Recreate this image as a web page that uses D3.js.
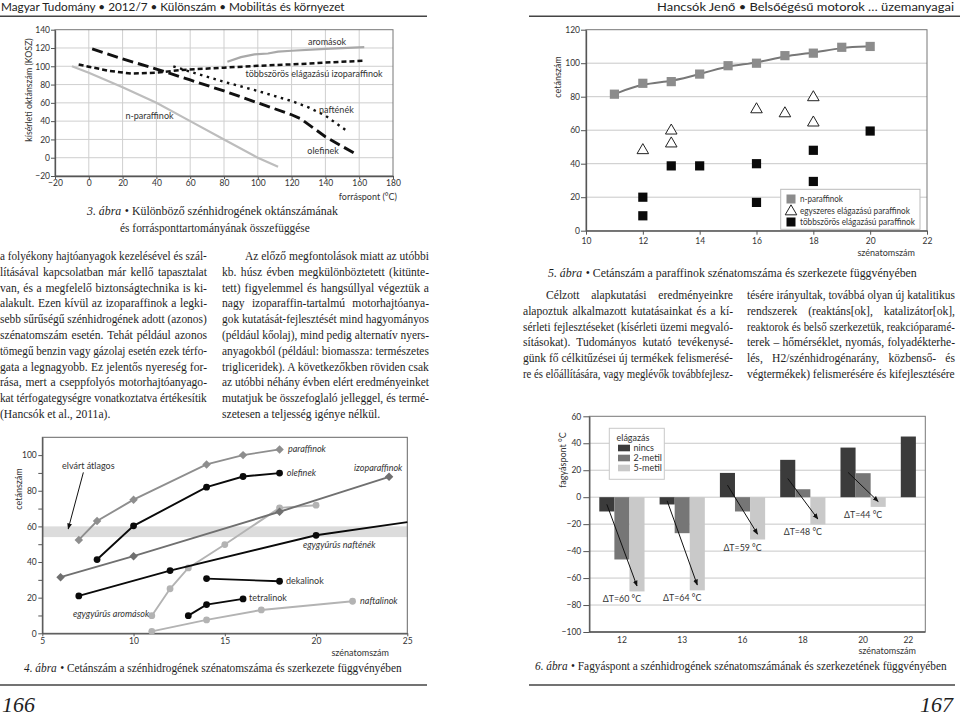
<!DOCTYPE html>
<html lang="hu"><head><meta charset="utf-8">
<script src="https://d3js.org/d3.v7.min.js"></script>
<style>html,body{margin:0;padding:0;background:#fff}svg{display:block}</style>
</head><body>
<svg id="page" width="960" height="720" xmlns="http://www.w3.org/2000/svg"></svg>
<script>
// ================= DATA =================
// 3. ábra – oktánszám vs forráspont
const fig3XTicks = [-20,0,20,40,60,80,100,120,140,160,180];
const fig3YTicks = [-20,0,20,40,60,80,100,120,140];
const fig3NParaffinok = [[-10,100],[0,93],[20,77],[40,60],[60,40],[80,20],[100,0],[112,-10]];
const fig3Aromasok = [[82,105],[90,110],[98,113],[106,114],[112,116],[120,117],[140,119],[163,121]];
const fig3Izoparaffinok = [[-6,102],[0,99.5],[12,95],[25,92],[40,93],[55,96],[80,98.5],[100,100.5],[125,102.5],[145,104.5],[163,106]];
const fig3Naftenek = [[50,100],[60,94],[80,83],[100,73],[120,62],[130,55],[140,46],[153,29]];
const fig3Olefinek = [[2,119],[20,108],[40,97],[60,85],[80,73],[100,60],[120,47],[125,43],[140,23],[157,5]];

// 5. ábra – cetánszám vs szénatomszám (paraffinok)
const fig5XTicks = [10,12,14,16,18,20,22];
const fig5YTicks = [0,20,40,60,80,100,120];
const fig5NParX = [11,12,13,14,15,16,17,18,19,20];
const fig5NParY = [81.5,88,89,93.5,98.5,100,104.5,106,109.5,110];
const fig5EgyX = [12,13,13,16,17,18,18];
const fig5EgyY = [48,59.7,52,72.4,70,79.6,64.5];
const fig5TobbX = [12,12,13,14,16,16,18,18,20];
const fig5TobbY = [20,8.9,38.7,38.7,40,16.9,48,29.4,59.5];
const fig5Legend = ['n-paraffinok','egyszeres elágazású paraffinok','többszörös elágazású paraffinok'];

// 4. ábra – cetánszám vs szénatomszám (szénhidrogének)
const fig4XTicks = [5,10,15,20,25];
const fig4YTicks = [0,10,20,30,40,50,60,70,80,90,100];
const fig4YLabels = [0,20,40,60,80,100];
const fig4Band = [54,60];
const fig4Paraffinok = [[7,52.4],[8,63],[10,75],[14,94.8],[16,100],[18,103.2]];
const fig4Olefinek = [[8,41.4],[10,60.3],[14,82],[16,88],[18,89.9]];
const fig4Izoparaffinok = [[6,31.5],[10,43.3],[18,68.2],[24,87.8]];
const fig4Naftenek = [[7,21],[12,35.2],[20,55]];
const fig4NaftenekEnd = [25,62.4];
const fig4Aromasok = [[11,9.9],[12,25],[13,36.7],[15,49.8],[18,70.4],[20,71.9]];
const fig4Dekalinok = [[14,30.7],[18,29.2]];
const fig4Tetralinok = [[13,9.9],[14,16.1],[16,19.3]];
const fig4Naftalinok = [[11,1.1],[14,7.5],[17,13.1],[22,18]];

// 6. ábra – fagyáspont
const fig6Cats = ['12','13','16','18','20','22'];
const fig6Series = ['nincs','2-metil','5-metil'];
const fig6Nincs = [-10.6,-5.4,18,27.7,36.8,45];
const fig6Metil2 = [-46.2,-26.7,-10.6,5.9,17.8,null];
const fig6Metil5 = [-69.9,-69.1,-31.4,-20.2,-7.2,null];
const fig6Delta = ['ΔT=60 °C','ΔT=64 °C','ΔT=59 °C','ΔT=48 °C','ΔT=44 °C',null];
const fig6YTicks = [-100,-80,-60,-40,-20,0,20,40,60];

// body text
const textL1 = ['a folyékony hajtóanyagok kezelésével és szál-','lításával kapcsolatban már kellő tapasztalat','van, és a megfelelő biztonságtechnika is ki-','alakult. Ezen kívül az izoparaffinok a legki-','sebb sűrűségű szénhidrogének adott (azonos)','szénatomszám esetén. Tehát például azonos','tömegű benzin vagy gázolaj esetén ezek térfo-','gata a legnagyobb. Ez jelentős nyereség for-','rása, mert a cseppfolyós motorhajtóanyago-','kat térfogategységre vonatkoztatva értékesítik','(Hancsók et al., 2011a).'];
const textL2 = ['Az előző megfontolások miatt az utóbbi','kb. húsz évben megkülönböztetett (kitünte-','tett) figyelemmel és hangsúllyal végeztük a','nagy izoparaffin-tartalmú motorhajtóanya-','gok kutatását-fejlesztését mind hagyományos','(például kőolaj), mind pedig alternatív nyers-','anyagokból (például: biomassza: természetes','trigliceridek). A következőkben röviden csak','az utóbbi néhány évben elért eredményeinket','mutatjuk be összefoglaló jelleggel, és termé-','szetesen a teljesség igénye nélkül.'];
const textR1 = ['Célzott alapkutatási eredményeinkre','alapoztuk alkalmazott kutatásainkat és a kí-','sérleti fejlesztéseket (kísérleti üzemi megvaló-','sításokat). Tudományos kutató tevékenysé-','günk fő célkitűzései új termékek felismerésé-','re és előállítására, vagy meglévők továbbfejlesz-'];
const textR2 = ['tésére irányultak, továbbá olyan új katalitikus','rendszerek (reaktáns[ok], katalizátor[ok],','reaktorok és belső szerkezetük, reakcióparamé-','terek – hőmérséklet, nyomás, folyadékterhe-','lés, H2/szénhidrogénarány, közbenső- és','végtermékek) felismerésére és kifejlesztésére'];

// ================= DRAWING =================
const svg = d3.select('#page');
const SANS = "Lato, 'Open Sans', 'DejaVu Sans', sans-serif";
const SERIF = "'Liberation Serif', 'DejaVu Serif', serif";

// horizontally scale a text (anchored at x,y) so it takes width w
function squeeze(t, x, y, w, n) {
  n = n || t.node().getComputedTextLength();
  const r = w / n;
  t.attr('x', 0).attr('y', 0).attr('transform', `translate(${x},${y}) scale(${r.toFixed(4)},1)`);
  return r;
}
function fitSize(t, w) {
  const n = t.node().getComputedTextLength();
  const fs = parseFloat(t.attr('font-size'));
  if (n > 0) t.attr('font-size', (fs * w / n).toFixed(2));
}
function T(g, s, x, y, o = {}) {
  const t = g.append('text').attr('x', x).attr('y', y).text(s)
    .attr('font-family', o.family || SANS).attr('font-size', o.size || 9)
    .attr('fill', o.fill || '#333').attr('text-anchor', o.anchor || 'start');
  if (o.italic) t.attr('font-style', 'italic');
  if (o.rotate) t.attr('transform', `rotate(${o.rotate},${x},${y})`);
  if (o.width) fitSize(t, o.width);
  if (o.len) squeeze(t, x, y, o.len);
  return t;
}
// caption: italic figure number + upright text, squeezed together to the wanted width
function caption(g, num, rest, x, y, w) {
  const fs = 12.8;
  const mk = (s, it) => {
    const t = g.append('text').attr('font-family', SERIF).attr('font-size', fs)
      .attr('fill', '#1e1e1e').text(s);
    if (it) t.attr('font-style', 'italic');
    return t;
  };
  const a = num ? mk(num, true) : null;
  const b = mk(rest, false);
  const gap = num ? fs * 0.3 : 0;
  const na = a ? a.node().getComputedTextLength() : 0;
  const nb = b.node().getComputedTextLength();
  const r = w / (na + gap + nb);
  if (a) squeeze(a, x, y, na * r, na);
  squeeze(b, x + (na + gap) * r, y, nb * r, nb);
}
function styleAxis(sel, fs = 8.5) {
  sel.attr('font-family', SANS).attr('font-size', fs);
  sel.select('.domain').attr('stroke', '#555').attr('stroke-width', 1.3);
  sel.selectAll('.tick line').attr('stroke', '#555');
  sel.selectAll('.tick text').attr('fill', '#333');
}
function column(g, lines, x0, x1, y0, lh, indentIdx, raggedIdx) {
  const size = 11.6;
  const items = lines.map((s, i) => {
    const xs = indentIdx.includes(i) ? x0 + 23 : x0;
    const y = y0 + i * lh;
    const t = g.append('text').attr('x', xs).attr('y', y).attr('font-family', SERIF)
      .attr('font-size', size).attr('fill', '#1e1e1e').text(s);
    return {t, s, xs, y, n: t.node().getComputedTextLength(), ragged: raggedIdx.includes(i)};
  });
  const ratios = items.filter(d => !d.ragged).map(d => (x1 - d.xs) / d.n);
  const r = Math.min(1, d3.mean(ratios));
  items.forEach(d => {
    const w = x1 - d.xs;
    if (d.ragged) {
      if (r < 1) squeeze(d.t, d.xs, d.y, d.n * r, d.n);
    } else if (d.n < w) {
      const sp = (d.s.match(/ /g) || []).length;
      if (sp) d.t.style('word-spacing', ((w - d.n) / sp) + 'px');
    } else {
      squeeze(d.t, d.xs, d.y, w, d.n);
    }
  });
}

const defs = svg.append('defs');
defs.append('marker').attr('id', 'arr').attr('viewBox', '0 0 10 10').attr('refX', 9).attr('refY', 5)
  .attr('markerWidth', 6).attr('markerHeight', 6).attr('orient', 'auto')
  .append('path').attr('d', 'M0,1L10,5L0,9z').attr('fill', '#111');

// ----- header & rules -----
T(svg, 'Magyar Tudomány • 2012/7 • Különszám • Mobilitás és környezet', 1, 11, {size: 11.8, fill: '#222', len: 344});
T(svg, 'Hancsók Jenő • Belsőégésű motorok … üzemanyagai', 954, 11, {size: 11.8, fill: '#222', anchor: 'end', len: 297});
svg.append('line').attr('x1', 0).attr('x2', 427).attr('y1', 16.3).attr('y2', 16.3).attr('stroke', '#444').attr('stroke-width', 1.5);
svg.append('line').attr('x1', 529).attr('x2', 960).attr('y1', 16.3).attr('y2', 16.3).attr('stroke', '#444').attr('stroke-width', 1.5);
svg.append('line').attr('x1', 0).attr('x2', 427).attr('y1', 685).attr('y2', 685).attr('stroke', '#444').attr('stroke-width', 1.5);
svg.append('line').attr('x1', 529).attr('x2', 955).attr('y1', 685).attr('y2', 685).attr('stroke', '#444').attr('stroke-width', 1.5);
T(svg, '166', 2, 712, {family: SERIF, size: 22, italic: true, fill: '#1e1e1e'});
T(svg, '167', 953, 712, {family: SERIF, size: 22, italic: true, fill: '#1e1e1e', anchor: 'end'});

// ----- 3. ábra -----
(function () {
  const g = svg.append('g');
  const x = d3.scaleLinear().domain([-20, 180]).range([55, 393]);
  const y = d3.scaleLinear().domain([-20, 140]).range([176, 29.7]);
  g.append('g').selectAll('line').data(fig3XTicks.slice(1, -1)).join('line')
    .attr('x1', d => x(d)).attr('x2', d => x(d)).attr('y1', y(-20)).attr('y2', y(140)).attr('stroke', '#cfcfcf');
  g.append('g').selectAll('line').data(fig3YTicks.slice(1, -1)).join('line')
    .attr('y1', d => y(d)).attr('y2', d => y(d)).attr('x1', x(-20)).attr('x2', x(180)).attr('stroke', '#cfcfcf');
  g.append('rect').attr('x', x(-20)).attr('y', y(140)).attr('width', x(180) - x(-20)).attr('height', y(-20) - y(140))
    .attr('fill', 'none').attr('stroke', '#777');
  styleAxis(g.append('g').attr('transform', `translate(${x(-20)},0)`)
    .call(d3.axisLeft(y).tickValues(fig3YTicks).tickSize(4).tickPadding(1).tickSizeOuter(0)));
  styleAxis(g.append('g').attr('transform', `translate(0,${y(-20)})`)
    .call(d3.axisBottom(x).tickValues(fig3XTicks).tickSize(3).tickPadding(1).tickSizeOuter(0)));
  const line = d3.line().x(d => x(d[0])).y(d => y(d[1]));
  const series = [
    {d: fig3NParaffinok, c: '#bdbdbd', w: 2.2, dash: null},
    {d: fig3Aromasok, c: '#a9a9a9', w: 2.2, dash: null},
    {d: fig3Izoparaffinok, c: '#111', w: 2.5, dash: '5,3'},
    {d: fig3Naftenek, c: '#111', w: 2.4, dash: '2.5,4.5'},
    {d: fig3Olefinek, c: '#111', w: 2.9, dash: '11,5'}
  ];
  series.forEach(s => g.append('path').attr('d', line(s.d)).attr('fill', 'none').attr('stroke', s.c)
    .attr('stroke-width', s.w).attr('stroke-dasharray', s.dash));
  T(g, 'aromások', x(141), y(123.3), {anchor: 'middle'});
  T(g, 'többszörös elágazású izoparaffinok', x(133.3), y(88.8), {anchor: 'middle'});
  T(g, 'nafténék', x(146.5), y(48.9), {anchor: 'middle'});
  T(g, 'olefinek', x(138.6), y(4), {anchor: 'middle'});
  T(g, 'n-paraffinok', x(35.9), y(41.8), {anchor: 'middle'});
  T(g, 'kísérleti oktánszám (KOSZ)', 32, 90, {anchor: 'middle', rotate: -90, size: 8.8});
  T(g, 'forráspont (°C)', 397, 200, {anchor: 'end'});
  caption(g, '3. ábra', '• Különböző szénhidrogének oktánszámának', 87, 215, 251);
  caption(g, null, 'és forrásponttartományának összefüggése', 120, 232, 190);
})();

// ----- 5. ábra -----
(function () {
  const g = svg.append('g');
  const x = d3.scaleLinear().domain([10, 22]).range([586, 927]);
  const y = d3.scaleLinear().domain([0, 120]).range([230.7, 29.7]);
  g.append('g').selectAll('line').data(fig5YTicks.slice(1, -1)).join('line')
    .attr('y1', d => y(d)).attr('y2', d => y(d)).attr('x1', x(10)).attr('x2', x(22)).attr('stroke', '#c8c8c8');
  g.append('rect').attr('x', x(10)).attr('y', y(120)).attr('width', x(22) - x(10)).attr('height', y(0) - y(120))
    .attr('fill', 'none').attr('stroke', '#777');
  styleAxis(g.append('g').attr('transform', `translate(${x(10)},0)`)
    .call(d3.axisLeft(y).tickValues(fig5YTicks).tickSize(5).tickPadding(1).tickSizeOuter(0)));
  styleAxis(g.append('g').attr('transform', `translate(0,${y(0)})`)
    .call(d3.axisBottom(x).tickValues(fig5XTicks).tickSize(4).tickPadding(3).tickSizeOuter(0)));
  const pts = fig5NParX.map((v, i) => [v, fig5NParY[i]]);
  g.append('path').attr('d', d3.line().x(d => x(d[0])).y(d => y(d[1])).curve(d3.curveBasis)(pts))
    .attr('fill', 'none').attr('stroke', '#777').attr('stroke-width', 2);
  g.append('g').selectAll('rect').data(pts).join('rect')
    .attr('x', d => x(d[0]) - 4.6).attr('y', d => y(d[1]) - 4.6).attr('width', 9.2).attr('height', 9.2).attr('fill', '#8c8c8c');
  const tri = d3.symbol(d3.symbolTriangle, 58);
  g.append('g').selectAll('path').data(fig5EgyX.map((v, i) => [v, fig5EgyY[i]])).join('path')
    .attr('d', tri).attr('transform', d => `translate(${x(d[0])},${y(d[1])})`)
    .attr('fill', '#fff').attr('stroke', '#222').attr('stroke-width', 1);
  g.append('g').selectAll('rect').data(fig5TobbX.map((v, i) => [v, fig5TobbY[i]])).join('rect')
    .attr('x', d => x(d[0]) - 4.6).attr('y', d => y(d[1]) - 4.6).attr('width', 9.2).attr('height', 9.2).attr('fill', '#0a0a0a');
  // legend
  const lg = g.append('g');
  lg.append('rect').attr('x', 780.7).attr('y', 189.3).attr('width', 139.3).attr('height', 40).attr('fill', '#fff').attr('stroke', '#bbb');
  const ly = [199, 211, 222];
  lg.append('rect').attr('x', 786.5).attr('y', ly[0] - 4.5).attr('width', 9).attr('height', 9).attr('fill', '#8c8c8c');
  lg.append('path').attr('d', tri).attr('transform', `translate(791,${ly[1] + 0.5})`).attr('fill', '#fff').attr('stroke', '#222');
  lg.append('rect').attr('x', 786.5).attr('y', ly[2] - 4.5).attr('width', 9).attr('height', 9).attr('fill', '#0a0a0a');
  const lw = [43, 110, 115];
  fig5Legend.forEach((s, i) => T(lg, s, 800, ly[i] + 3.2, {size: 9, len: lw[i]}));
  T(g, 'cetánszám', 561, 77, {anchor: 'middle', rotate: -90});
  T(g, 'szénatomszám', 915, 256, {anchor: 'end'});
  caption(g, '5. ábra', '• Cetánszám a paraffinok szénatomszáma és szerkezete függvényében', 548, 277, 369);
})();

// ----- body text -----
(function () {
  const g = svg.append('g');
  column(g, textL1, 0, 207, 260, 15.8, [], [10]);
  column(g, textL2, 222, 429, 260, 15.8, [0], [10]);
  column(g, textR1, 523, 733, 299.3, 15.68, [0], []);
  column(g, textR2, 747, 955, 299.3, 15.68, [], []);
})();

// ----- 4. ábra -----
(function () {
  const g = svg.append('g');
  const x = d3.scaleLinear().domain([5, 25]).range([42.3, 407.3]);
  const y = d3.scaleLinear().domain([0, 110]).range([633.3, 437.3]);
  g.append('rect').attr('x', x(5)).attr('y', y(fig4Band[1])).attr('width', x(25) - x(5))
    .attr('height', y(fig4Band[0]) - y(fig4Band[1])).attr('fill', '#dcdcdc');
  g.append('rect').attr('x', x(5)).attr('y', y(110)).attr('width', x(25) - x(5)).attr('height', y(0) - y(110))
    .attr('fill', 'none').attr('stroke', '#666');
  styleAxis(g.append('g').attr('transform', `translate(${x(5)},0)`)
    .call(d3.axisLeft(y).tickValues(fig4YTicks).tickSize(4).tickPadding(1.5).tickSizeOuter(0)
      .tickFormat(d => fig4YLabels.includes(d) ? d : '')));
  styleAxis(g.append('g').attr('transform', `translate(0,${y(0)})`)
    .call(d3.axisBottom(x).tickValues(fig4XTicks).tickSize(3).tickPadding(1.5).tickSizeOuter(0)));
  const line = d3.line().x(d => x(d[0])).y(d => y(d[1]));
  const series = [
    {d: fig4Aromasok, c: '#b3b3b3', m: 'c'},
    {d: fig4Naftalinok, c: '#b3b3b3', m: 'c'},
    {d: fig4Izoparaffinok, c: '#707070', m: 'd'},
    {d: fig4Paraffinok, c: '#8e8e8e', m: 'd'},
    {d: fig4Naftenek, c: '#0a0a0a', m: 'c', ext: fig4NaftenekEnd},
    {d: fig4Olefinek, c: '#0a0a0a', m: 'c'},
    {d: fig4Dekalinok, c: '#0a0a0a', m: 'c'},
    {d: fig4Tetralinok, c: '#0a0a0a', m: 'c'}
  ];
  const diamond = d3.symbol(d3.symbolSquare, 36);
  series.forEach(s => {
    const ld = s.ext ? s.d.concat([s.ext]) : s.d;
    g.append('path').attr('d', line(ld)).attr('fill', 'none').attr('stroke', s.c).attr('stroke-width', 1.9);
    if (s.m === 'c') {
      g.append('g').selectAll('circle').data(s.d).join('circle')
        .attr('cx', d => x(d[0])).attr('cy', d => y(d[1])).attr('r', 3.4).attr('fill', s.c);
    } else {
      g.append('g').selectAll('path').data(s.d).join('path').attr('d', diamond)
        .attr('transform', d => `translate(${x(d[0])},${y(d[1])}) rotate(45)`).attr('fill', s.c);
    }
  });
  T(g, 'paraffinok', x(18.46), y(101.7), {italic: true});
  T(g, 'olefinek', x(18.4), y(88.3), {italic: true});
  T(g, 'izoparaffinok', x(22.08), y(91.1), {italic: true});
  T(g, 'egygyűrűs nafténék', x(19.28), y(47.9), {italic: true});
  T(g, 'dekalinok', x(18.35), y(27.7));
  T(g, 'tetralinok', x(16.33), y(18.1));
  T(g, 'naftalinok', x(22.41), y(16.4), {italic: true});
  T(g, 'egygyűrűs aromások', x(6.68), y(9.1), {italic: true});
  T(g, 'elvárt átlagos', x(6.08), y(92.2));
  g.append('line').attr('x1', x(7.25)).attr('y1', y(90.3)).attr('x2', x(6.42)).attr('y2', y(58.6))
    .attr('stroke', '#111').attr('stroke-width', 1).attr('marker-end', 'url(#arr)');
  T(g, 'cetánszám', 22, 489, {anchor: 'middle', rotate: -90});
  T(g, 'szénatomszám', 389, 655.5, {anchor: 'end'});
  caption(g, '4. ábra', '• Cetánszám a szénhidrogének szénatomszáma és szerkezete függvényében', 24, 671.5, 378);
})();

// ----- 6. ábra -----
(function () {
  const g = svg.append('g');
  const y = d3.scaleLinear().domain([-100, 60]).range([632, 416.3]);
  const xL = 589.3, xR = 925.3;
  const x0 = d3.scaleBand().domain(fig6Cats).range([599.3, 599.3 + 60.3 * 5.75]).paddingInner(0.25).paddingOuter(0);
  const x1 = d3.scaleBand().domain(fig6Series).range([0, x0.bandwidth()]);
  g.append('g').selectAll('line').data(fig6YTicks.slice(1, -1)).join('line')
    .attr('y1', d => y(d)).attr('y2', d => y(d)).attr('x1', xL).attr('x2', xR).attr('stroke', '#c8c8c8');
  g.append('rect').attr('x', xL).attr('y', y(60)).attr('width', xR - xL).attr('height', y(-100) - y(60))
    .attr('fill', 'none').attr('stroke', '#777');
  styleAxis(g.append('g').attr('transform', `translate(${xL},0)`)
    .call(d3.axisLeft(y).tickValues(fig6YTicks).tickSize(6).tickPadding(2).tickSizeOuter(0)));
  g.append('line').attr('x1', xL).attr('x2', xR).attr('y1', y(-100)).attr('y2', y(-100)).attr('stroke', '#555').attr('stroke-width', 1.3);
  const colors = {'nincs': '#3b3b3b', '2-metil': '#767676', '5-metil': '#c9c9c9'};
  const vals = {'nincs': fig6Nincs, '2-metil': fig6Metil2, '5-metil': fig6Metil5};
  fig6Cats.forEach((c, i) => {
    const present = fig6Series.filter(s => vals[s][i] !== null);
    present.forEach(s => {
      const v = vals[s][i];
      g.append('rect').attr('x', x0(c) + x1(s)).attr('width', x1.bandwidth())
        .attr('y', y(Math.max(0, v))).attr('height', Math.abs(y(v) - y(0))).attr('fill', colors[s]);
    });
    const cx = d3.mean(present, s => x0(c) + x1(s) + x1.bandwidth() / 2);
    T(g, c, cx, 643, {anchor: 'middle', size: 8.5});
    if (fig6Delta[i]) {
      const n = fig6Nincs[i], m5 = fig6Metil5[i];
      g.append('line')
        .attr('x1', x0(c) + x1('nincs') + x1.bandwidth() / 2).attr('y1', y(n / 2))
        .attr('x2', x0(c) + x1('5-metil') + x1.bandwidth() / 2).attr('y2', y(m5 + 4))
        .attr('stroke', '#111').attr('stroke-width', 1).attr('marker-end', 'url(#arr)');
      const low = Math.min(n, fig6Metil2[i], m5);
      T(g, fig6Delta[i], x0(c) + x0.bandwidth() / 2, y(low) + 11, {anchor: 'middle', size: 8.8});
    }
  });
  // legend
  const lg = g.append('g');
  lg.append('rect').attr('x', 609.3).attr('y', 428.3).attr('width', 55).attr('height', 51).attr('fill', '#fff').attr('stroke', '#c8c8c8');
  T(lg, 'elágazás', 616.5, 440.5);
  fig6Series.forEach((s, i) => {
    const yy = 448 + i * 10;
    lg.append('rect').attr('x', 618).attr('y', yy - 3.3).attr('width', 12).attr('height', 6.6).attr('fill', colors[s]);
    T(lg, s, 633.5, yy + 3.2);
  });
  T(g, 'fagyáspont °C', 566, 460, {anchor: 'middle', rotate: -90});
  T(g, 'szénatomszám', 916, 654, {anchor: 'end'});
  caption(g, '6. ábra', '• Fagyáspont a szénhidrogének szénatomszámának és szerkezetének függvényében', 535, 670, 412);
})();
</script></body></html>
